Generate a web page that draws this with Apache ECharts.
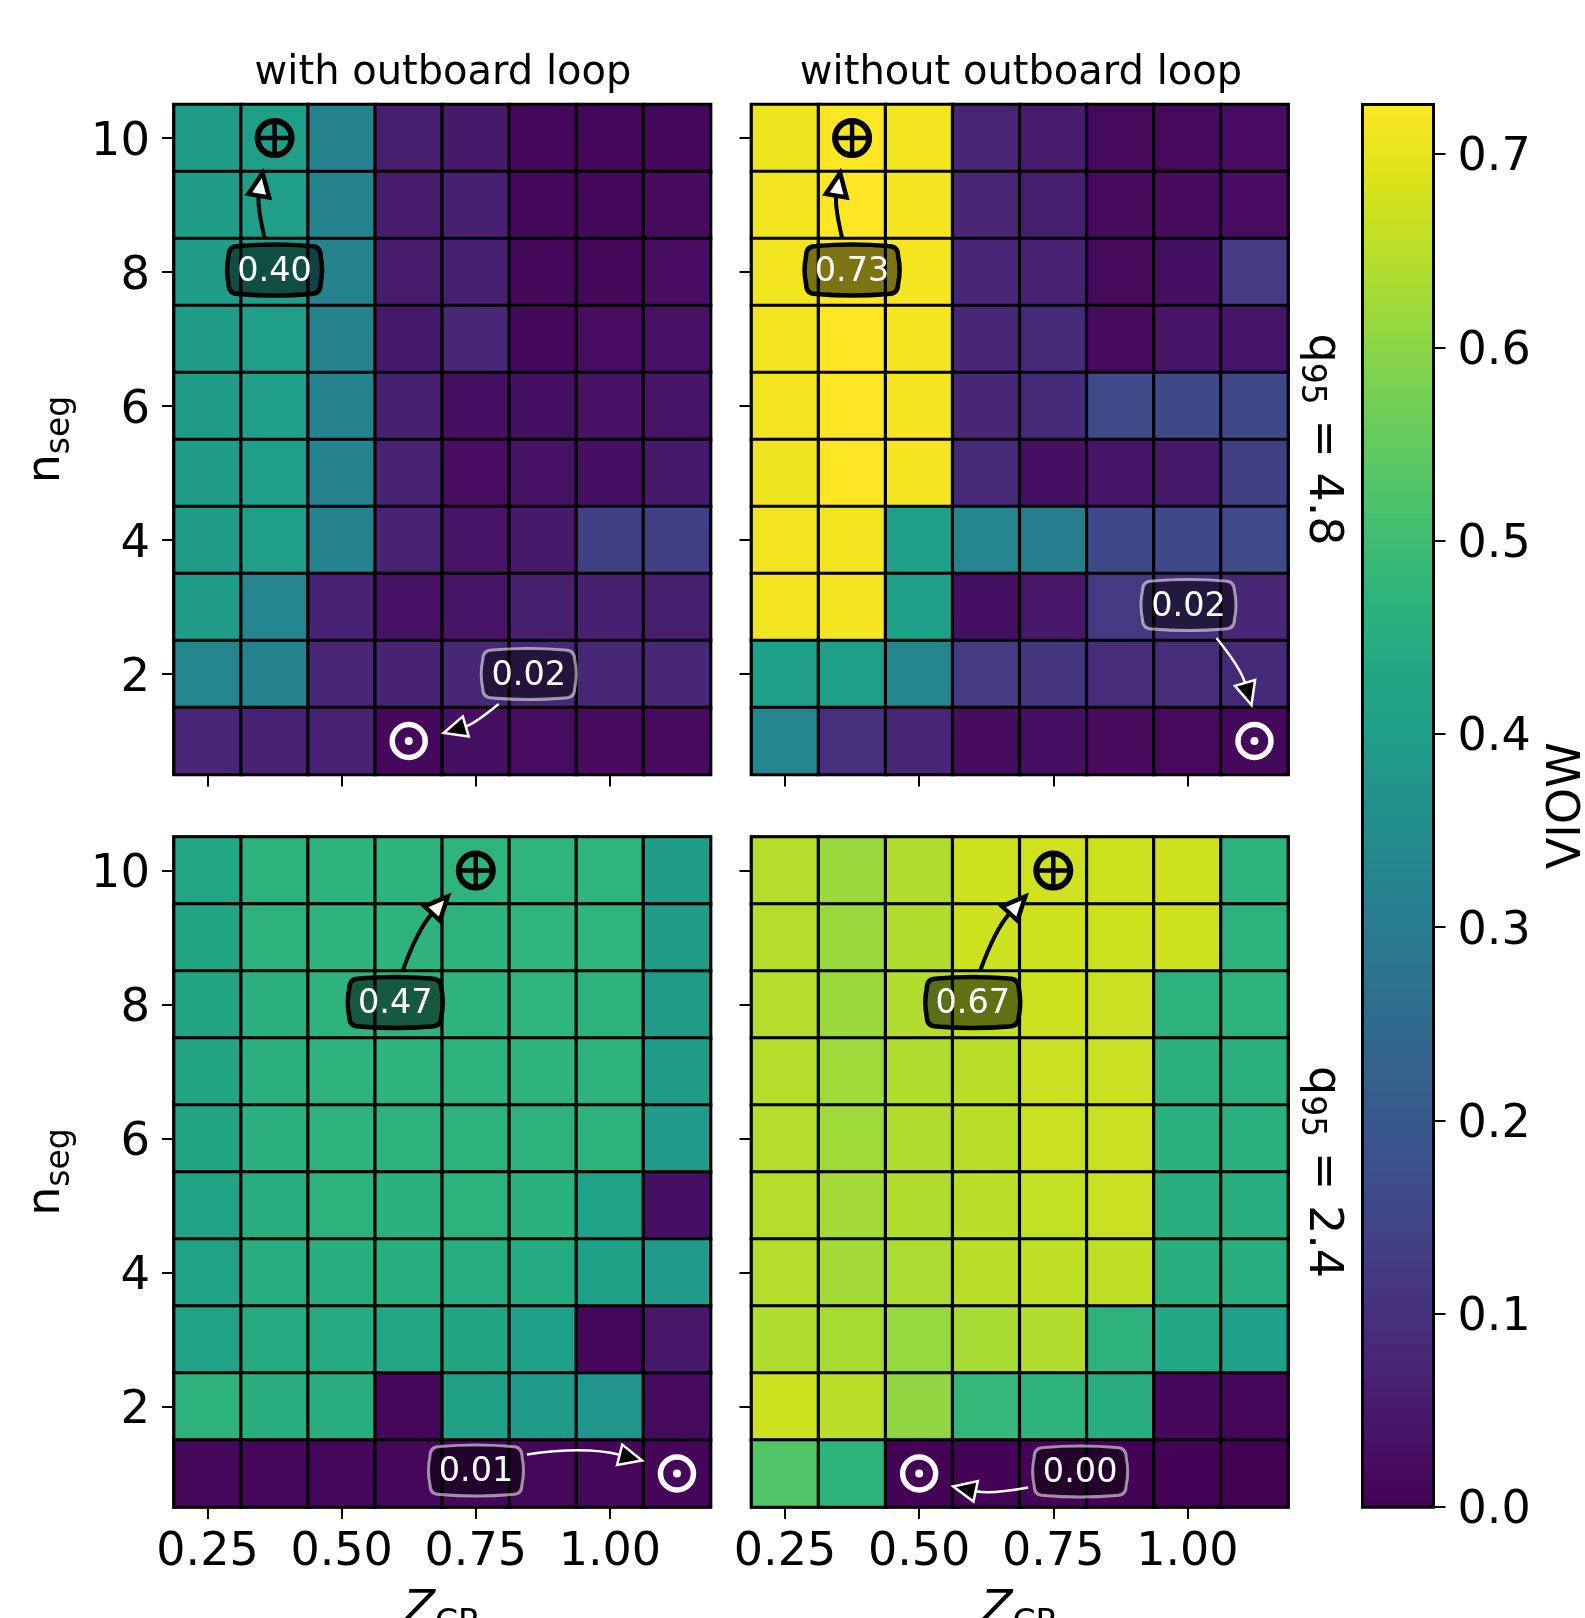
<!DOCTYPE html>
<html><head><meta charset="utf-8">
<style>html,body{margin:0;padding:0;background:#fff;overflow:hidden}#c{width:1585px;height:1618px}</style>
<script src="https://cdn.jsdelivr.net/npm/echarts@6/dist/echarts.min.js"></script>
</head><body><div id="c"></div>
<script>
const zcrLabels = ["0.25","0.375","0.50","0.625","0.75","0.875","1.00","1.125"];
const nsegLabels = ["1","2","3","4","5","6","7","8","9","10"];
const colorbarTicks = [0,0.1,0.2,0.3,0.4,0.5,0.6,0.7];
const colorMax = 0.7256;
const viridis = ["#440154","#471365","#482475","#463480","#414487","#3b528b","#355f8d","#2f6c8e","#2a788e","#25848e","#21918c","#1f9e89","#22a884","#2fb47c","#44bf70","#5ec962","#7ad151","#9bd93c","#bddf26","#dfe318","#fde725"];

// rows listed from n_seg = 10 (top) down to n_seg = 1
const withLoopHighQ = [
 [.395,.404,.325,.060,.050,.017,.017,.017],
 [.395,.400,.325,.055,.065,.017,.017,.020],
 [.395,.398,.325,.055,.065,.017,.017,.025],
 [.395,.400,.325,.050,.080,.017,.025,.035],
 [.395,.398,.325,.065,.030,.030,.035,.040],
 [.395,.400,.325,.070,.025,.035,.030,.050],
 [.395,.400,.325,.070,.040,.050,.135,.135],
 [.395,.330,.070,.035,.040,.060,.065,.060],
 [.330,.325,.075,.070,.080,.080,.080,.080],
 [.075,.070,.070,.015,.030,.025,.020,.020]];
const withoutLoopHighQ = [
 [.705,.725,.712,.075,.055,.018,.018,.025],
 [.710,.725,.717,.080,.060,.018,.020,.025],
 [.710,.725,.717,.080,.070,.018,.030,.125],
 [.710,.725,.717,.080,.085,.020,.040,.040],
 [.710,.725,.717,.080,.085,.160,.155,.155],
 [.705,.725,.717,.085,.030,.040,.050,.135],
 [.710,.712,.405,.330,.310,.155,.155,.160],
 [.710,.717,.405,.030,.045,.120,.100,.080],
 [.405,.400,.330,.125,.110,.090,.090,.085],
 [.330,.100,.080,.022,.030,.020,.018,.016]];
const withLoopLowQ = [
 [.430,.465,.470,.470,.472,.472,.472,.395],
 [.425,.465,.470,.470,.470,.472,.472,.395],
 [.425,.460,.470,.470,.470,.472,.470,.395],
 [.425,.460,.465,.470,.470,.470,.470,.395],
 [.425,.460,.465,.465,.465,.465,.470,.390],
 [.420,.455,.465,.460,.465,.460,.415,.030],
 [.415,.450,.455,.455,.450,.445,.410,.390],
 [.415,.445,.445,.430,.425,.405,.015,.045],
 [.465,.455,.455,.012,.410,.390,.375,.020],
 [.015,.012,.012,.012,.012,.012,.012,.008]];
const withoutLoopLowQ = [
 [.645,.615,.640,.670,.672,.670,.670,.470],
 [.645,.615,.640,.670,.670,.670,.670,.465],
 [.645,.615,.640,.660,.670,.665,.465,.465],
 [.645,.620,.640,.650,.665,.665,.460,.460],
 [.645,.620,.640,.650,.665,.665,.460,.460],
 [.645,.625,.640,.650,.660,.665,.455,.455],
 [.645,.625,.635,.650,.655,.655,.455,.455],
 [.640,.630,.610,.630,.640,.465,.435,.405],
 [.670,.650,.605,.480,.470,.450,.015,.012],
 [.530,.470,.002,.004,.004,.004,.004,.003]];
const panelValues = [withLoopHighQ, withoutLoopHighQ, withLoopLowQ, withoutLoopLowQ];

// annotated extremes: [column, row index from n_seg=1]
const peakCells = [[1,9],[1,9],[4,9],[4,9]];
const lowCells  = [[3,0],[7,0],[7,0],[2,0]];
const peakTexts = ["0.40","0.73","0.47","0.67"];
const lowTexts  = ["0.02","0.02","0.01","0.00"];
// annotation offsets from the marker: [label dx, dy, arrow tail dx, dy, arrow tip dx, dy]
const peakOffsets = [
 [0,132,-10,100,-12,35],[0,132,-10,100,-12,35],
 [-80.5,132,-73,100,-28,26],[-80.5,132,-73,100,-28,26]];
const lowOffsets = [
 [120,-67,90,-37,35,-8],[-66,-136,-38,-103,-3,-36],
 [-201,-3,-150,-19,-35,-13],[161,-2,109,14,34,13]];

const FONT = '"DejaVu Sans"';
const panels = [
 {left:174,top:104.5,width:536.5,height:670},
 {left:751.5,top:104.5,width:536.5,height:670},
 {left:174,top:837,width:536.5,height:670},
 {left:751.5,top:837,width:536.5,height:670}];
const evenRow = (i, v) => Number(v) % 2 === 0;

const grids = panels.map(p => Object.assign({show:true, outerBoundsMode:'none', borderColor:'#000', borderWidth:3, backgroundColor:'transparent'}, p));
grids.push({show:true, outerBoundsMode:'none', borderColor:'#000', borderWidth:3, left:1362.5, top:104.5, width:71, height:1402.5});

const xAxes = panels.map((p,i) => ({
  type:'category', gridIndex:i, data:zcrLabels, position:'bottom',
  axisLine:{show:false}, splitLine:{show:false}, splitArea:{show:false},
  axisTick:{show:true, alignWithLabel:true, interval:1, length:12, lineStyle:{color:'#000',width:2}},
  axisLabel:{show:i>=2, interval:1, fontSize:46, fontFamily:FONT, color:'#000', margin:23},
  name:i>=2?'{z|Z}{s|CR}':'', nameLocation:'middle', nameGap:75,
  nameTextStyle:{color:'#000', rich:{
    z:{fontSize:46,fontStyle:'italic',fontFamily:FONT,color:'#000',lineHeight:52,verticalAlign:'bottom'},
    s:{fontSize:33,fontFamily:FONT,color:'#000',lineHeight:40,verticalAlign:'bottom',padding:[0,0,-7,0]}}}
}));
xAxes.push({type:'category', gridIndex:4, data:[''], show:false});

const yAxes = panels.map((p,i) => ({
  type:'category', gridIndex:i, data:nsegLabels, position:'left',
  axisLine:{show:false}, splitLine:{show:false}, splitArea:{show:false},
  axisTick:{show:true, alignWithLabel:true, interval:evenRow, length:12, lineStyle:{color:'#000',width:2}},
  axisLabel:{show:i%2===0, interval:evenRow, fontSize:46.5, fontFamily:FONT, color:'#000', margin:24, verticalAlign:'top', lineHeight:9},
  name:i%2===0?'{n|n}{s|seg}':'', nameLocation:'middle', nameGap:104, nameRotate:90,
  nameTextStyle:{color:'#000', rich:{
    n:{fontSize:46,fontFamily:FONT,color:'#000',lineHeight:52,verticalAlign:'bottom'},
    s:{fontSize:33,fontFamily:FONT,color:'#000',lineHeight:40,verticalAlign:'bottom',padding:[0,0,-7,0]}}}
}));
yAxes.push({
  type:'value', gridIndex:4, position:'right', min:0, max:colorMax,
  axisLine:{show:false}, splitLine:{show:false},
  axisTick:{show:true, customValues:colorbarTicks, length:12, lineStyle:{color:'#000',width:2}},
  axisLabel:{customValues:colorbarTicks, fontSize:46, fontFamily:FONT, color:'#000', margin:24, verticalAlign:'top', lineHeight:9, formatter:v=>Number(v).toFixed(1)},
  name:'VIOW', nameLocation:'middle', nameRotate:90, nameGap:112,
  nameTextStyle:{fontSize:46, fontFamily:FONT, color:'#000'}
});

function heatmapData(rows){
  const out=[];
  rows.forEach((row,r)=>row.forEach((v,c)=>out.push([c,rows.length-1-r,v])));
  return out;
}
function boxPath(cx,cy,w,h){
  const x0=cx-w/2,x1=cx+w/2,y0=cy-h/2,y1=cy+h/2,r=10,b=3;
  return `M${x0+r} ${y0}Q${cx} ${y0-b} ${x1-r} ${y0}Q${x1} ${y0} ${x1} ${y0+r}`+
         `Q${x1+b} ${cy} ${x1} ${y1-r}Q${x1} ${y1} ${x1-r} ${y1}`+
         `Q${cx} ${y1+b} ${x0+r} ${y1}Q${x0} ${y1} ${x0} ${y1-r}`+
         `Q${x0-b} ${cy} ${x0} ${y0+r}Q${x0} ${y0} ${x0+r} ${y0}Z`;
}
function annotation(m, off, text, isPeak){
  const ink = isPeak ? '#000' : '#fff';
  const lw = isPeak ? 4 : 2.5;
  const lx=m[0]+off[0], ly=m[1]+off[1];
  const tx=m[0]+off[2], ty=m[1]+off[3], px=m[0]+off[4], py=m[1]+off[5];
  const dx=px-tx, dy=py-ty;
  const cx=(tx+px)/2+0.1*dy, cy=(ty+py)/2-0.1*dx;
  const ang=Math.atan2(py-cy,px-cx), ux=Math.cos(ang), uy=Math.sin(ang);
  const L=23, H=10.5;
  const bx=px-L*ux, by=py-L*uy;
  const kids=[];
  kids.push({type:'path', shape:{pathData:boxPath(lx,ly,92,48)},
    style:{fill:'rgba(0,0,0,0.5)', stroke:isPeak?'#000':'rgba(255,255,255,0.55)', lineWidth:isPeak?4.5:3}});
  kids.push({type:'text', x:lx, y:ly+2, style:{text, fill:'#fff', fontSize:33.5, fontFamily:FONT, align:'center', verticalAlign:'middle'}});
  kids.push({type:'path', shape:{pathData:`M${tx} ${ty}Q${cx} ${cy} ${bx} ${by}`}, style:{fill:'none', stroke:ink, lineWidth:lw}});
  kids.push({type:'polygon', shape:{points:[[px,py],[bx-H*uy,by+H*ux],[bx+H*uy,by-H*ux]]},
    style:{fill:isPeak?'#fff':'#000', stroke:ink, lineWidth:isPeak?4.5:2.5, lineJoin:'miter'}});
  if(isPeak){
    kids.push({type:'circle', shape:{cx:m[0],cy:m[1],r:17}, style:{fill:'none',stroke:'#000',lineWidth:6}});
    kids.push({type:'line', shape:{x1:m[0]-17,y1:m[1],x2:m[0]+17,y2:m[1]}, style:{stroke:'#000',lineWidth:4.5}});
    kids.push({type:'line', shape:{x1:m[0],y1:m[1]-17,x2:m[0],y2:m[1]+17}, style:{stroke:'#000',lineWidth:4.5}});
  } else {
    kids.push({type:'circle', shape:{cx:m[0],cy:m[1],r:16.5}, style:{fill:'none',stroke:'#fff',lineWidth:5.5}});
    kids.push({type:'circle', shape:{cx:m[0],cy:m[1],r:4}, style:{fill:'#fff'}});
  }
  return {type:'group', children:kids};
}

const series=[];
panelValues.forEach((rows,i)=>series.push({
  type:'heatmap', xAxisIndex:i, yAxisIndex:i, data:heatmapData(rows), progressive:0, animation:false,
  itemStyle:{borderColor:'#000', borderWidth:3.2}, emphasis:{disabled:true}
}));
panelValues.forEach((rows,i)=>series.push({
  type:'custom', xAxisIndex:i, yAxisIndex:i, clip:false, z:5, silent:true, animation:false,
  data:[peakCells[i], lowCells[i]], encode:{x:0,y:1},
  renderItem:(params,api)=>{
    const m=api.coord([api.value(0),api.value(1)]);
    const isPeak=params.dataIndex===0;
    return annotation(m, isPeak?peakOffsets[i]:lowOffsets[i], isPeak?peakTexts[i]:lowTexts[i], isPeak);
  }
}));
series.push({
  type:'custom', xAxisIndex:4, yAxisIndex:4, clip:false, z:1, silent:true, animation:false,
  data:[[0,colorMax]], encode:{x:0,y:1},
  renderItem:(params,api)=>{
    const top=api.coord([0,api.value(1)]), bot=api.coord([0,0]), w=api.size([1,0])[0];
    const stops=viridis.map((c,k)=>({offset:k/(viridis.length-1),color:c}));
    return {type:'rect', shape:{x:top[0]-w/2,y:top[1],width:w,height:bot[1]-top[1]},
      style:{fill:new echarts.graphic.LinearGradient(0,1,0,0,stops), stroke:'#000', lineWidth:3}};
  }
});

const rowTitle=(q,y)=>({type:'text', x:1325, y, rotation:-Math.PI/2, z:10, style:{
  text:`{a|q}{b|95}{a| = ${q}}`, align:'center', verticalAlign:'middle', fill:'#000',
  rich:{a:{fontSize:46,fontFamily:FONT,fill:'#000',lineHeight:52,verticalAlign:'bottom'},
        b:{fontSize:33,fontFamily:FONT,fill:'#000',lineHeight:40,verticalAlign:'bottom',padding:[0,0,-5,0]}}
}});

const chart=echarts.init(document.getElementById('c'),null,{renderer:'canvas'});
chart.setOption({
  animation:false, backgroundColor:'#fff',
  title:[
    {text:'with outboard loop',left:438,top:49,textAlign:'center',textStyle:{fontSize:40,fontWeight:'normal',fontFamily:FONT,color:'#000'}},
    {text:'without outboard loop',left:1016,top:49,textAlign:'center',textStyle:{fontSize:40,fontWeight:'normal',fontFamily:FONT,color:'#000'}}
  ],
  grid:grids, xAxis:xAxes, yAxis:yAxes, series,
  visualMap:{type:'continuous', show:false, min:0, max:colorMax, dimension:2, seriesIndex:[0,1,2,3], inRange:{color:viridis}},
  graphic:[rowTitle('4.8',439.5), rowTitle('2.4',1172)]
});
</script></body></html>
